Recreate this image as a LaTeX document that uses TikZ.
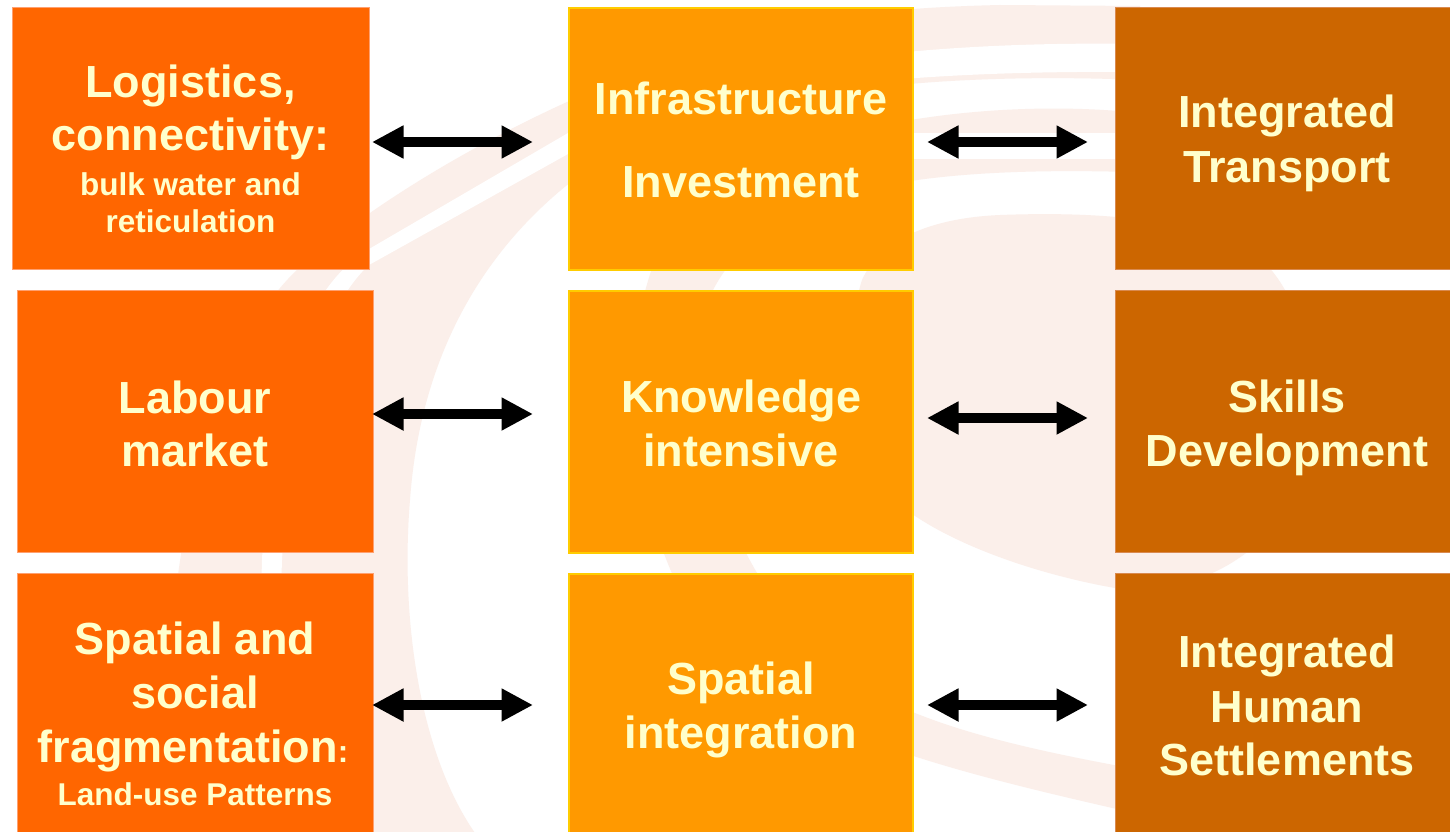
\documentclass[tikz,border=0pt]{standalone}
\usepackage{fontspec}
\setmainfont{Liberation Sans}
\usetikzlibrary{arrows.meta}
\definecolor{cleft}{HTML}{FF6600}
\definecolor{cleftline}{HTML}{FFA070}
\definecolor{cmid}{HTML}{FF9900}
\definecolor{cmidline}{HTML}{FFCC00}
\definecolor{cright}{HTML}{CC6600}
\definecolor{crightline}{HTML}{D98A50}
\definecolor{ctext}{HTML}{FFFFCC}
\definecolor{cswirl}{HTML}{FBEFEA}
\begin{document}
\begin{tikzpicture}[x=1pt,y=-1pt,
  boxbase/.style={anchor=north west, inner sep=0pt, line width=1pt},
  leftbox/.style={boxbase, fill=cleft, draw=cleftline},
  midbox/.style={boxbase, fill=cmid, draw=cmidline, line width=1.6pt},
  rightbox/.style={boxbase, fill=cright, draw=crightline},
  big/.style={font=\fontsize{45}{54}\selectfont\bfseries, text=ctext, inner sep=0pt, anchor=base},
  small/.style={font=\fontsize{31.5}{38}\selectfont\bfseries, text=ctext, inner sep=0pt, anchor=base},
  dbl/.style={{Triangle[length=31.5pt,width=31pt]}-{Triangle[length=31.5pt,width=31pt]}, line width=9.5pt, black}
]
\useasboundingbox (0,0) rectangle (1450,832);
\clip (0,0) rectangle (1450,832);
\fill[white] (0,0) rectangle (1450,832);

% ---- faint swirl in the background ----
% outer crescent
\fill[cswirl] (160,840) .. controls (165,560) and (200,360) .. (300,267)
  .. controls (400,180) and (560,95) .. (700,50)
  .. controls (800,20) and (870,8) .. (1000,5) -- (1140,6) -- (1140,80)
  .. controls (900,70) and (700,100) .. (580,175)
  .. controls (480,250) and (420,360) .. (410,500)
  .. controls (400,620) and (420,760) .. (480,840) -- cycle;
% white stripe inside it
\fill[white] (1140,44) .. controls (900,40) and (700,70) .. (568,133)
  -- (369,249) .. controls (300,290) and (270,400) .. (262,560)
  .. controls (258,700) and (258,780) .. (258,840) -- (276,840)
  .. controls (276,760) and (278,680) .. (282,560)
  .. controls (290,420) and (320,310) .. (369,265)
  -- (568,154) .. controls (700,90) and (900,70) .. (1140,72) -- cycle;
% inner curl band
\fill[cswirl] (1130,112) .. controls (950,95) and (700,140) .. (655,260)
  .. controls (610,380) and (640,520) .. (690,610)
  .. controls (760,720) and (900,760) .. (1130,812) -- (1130,768)
  .. controls (950,735) and (830,700) .. (775,600)
  .. controls (715,520) and (670,360) .. (713,290)
  .. controls (760,200) and (880,165) .. (1130,172) -- cycle;
\fill[white] (880,133) rectangle (1140,159);
% central blob
\fill[cswirl] (1000,215) .. controls (930,218) and (880,240) .. (862,280)
  .. controls (845,330) and (850,460) .. (900,505)
  .. controls (950,545) and (1040,575) .. (1115,588)
  .. controls (1180,595) and (1240,570) .. (1280,520)
  .. controls (1330,440) and (1320,300) .. (1250,250)
  .. controls (1180,215) and (1080,212) .. (1000,215) -- cycle;

% ---- boxes ----
\node[leftbox, minimum width=357pt, minimum height=262pt] (l1) at (12,7) {};
\node[leftbox, minimum width=356pt, minimum height=262pt] (l2) at (17,290) {};
\node[leftbox, minimum width=356pt, minimum height=272pt] (l3) at (17,573) {};
\node[midbox, minimum width=344pt, minimum height=262pt] (m1) at (568,7) {};
\node[midbox, minimum width=344pt, minimum height=262pt] (m2) at (568,290) {};
\node[midbox, minimum width=344pt, minimum height=272pt] (m3) at (568,573) {};
\node[rightbox, minimum width=345pt, minimum height=262pt] (r1) at (1115,7) {};
\node[rightbox, minimum width=345pt, minimum height=262pt] (r2) at (1115,290) {};
\node[rightbox, minimum width=345pt, minimum height=272pt] (r3) at (1115,573) {};

% ---- texts ----
\node[big] (l1a) at (190.5,98) {Logistics,};
\node[big] (l1b) at (190.5,150) {connectivity:};
\node[small] (l1c) at (190.5,195) {bulk water and};
\node[small] (l1d) at (190.5,232) {reticulation};
\node[big] (l2a) at (195,413) {Labour};
\node[big] (l2b) at (195,466) {market};
\node[big] (l3a) at (195,654) {Spatial and};
\node[big] (l3b) at (195,708) {social};
\node[big] (l3c) at (193,762) {fragmentation{\fontsize{31.5}{38}\selectfont:}};
\node[small] (l3d) at (195,805) {Land-use Patterns};

\node[big] (m1a) at (741,115) {Infrastructure};
\node[big] (m1b) at (741,197) {Investment};
\node[big] (m2a) at (741,412) {Knowledge};
\node[big] (m2b) at (741,466) {intensive};
\node[big] (m3a) at (741,694) {Spatial};
\node[big] (m3b) at (741,748) {integration};

\node[big] (r1a) at (1287,128) {Integrated};
\node[big] (r1b) at (1287,182) {Transport};
\node[big] (r2a) at (1287,412) {Skills};
\node[big] (r2b) at (1287,466) {Development};
\node[big] (r3a) at (1287,667) {Integrated};
\node[big] (r3b) at (1287,722) {Human};
\node[big] (r3c) at (1287,775) {Settlements};

% ---- double arrows ----
\coordinate (a1l) at (372,142);  \coordinate (a1r) at (533,142);
\coordinate (b1l) at (927,142);  \coordinate (b1r) at (1088,142);
\coordinate (a2l) at (372,414);  \coordinate (a2r) at (533,414);
\coordinate (b2l) at (927,418);  \coordinate (b2r) at (1088,418);
\coordinate (a3l) at (372,705);  \coordinate (a3r) at (533,705);
\coordinate (b3l) at (927,705);  \coordinate (b3r) at (1088,705);
\draw[dbl] (a1l) -- (a1r);
\draw[dbl] (b1l) -- (b1r);
\draw[dbl] (a2l) -- (a2r);
\draw[dbl] (b2l) -- (b2r);
\draw[dbl] (a3l) -- (a3r);
\draw[dbl] (b3l) -- (b3r);
\end{tikzpicture}
\end{document}
